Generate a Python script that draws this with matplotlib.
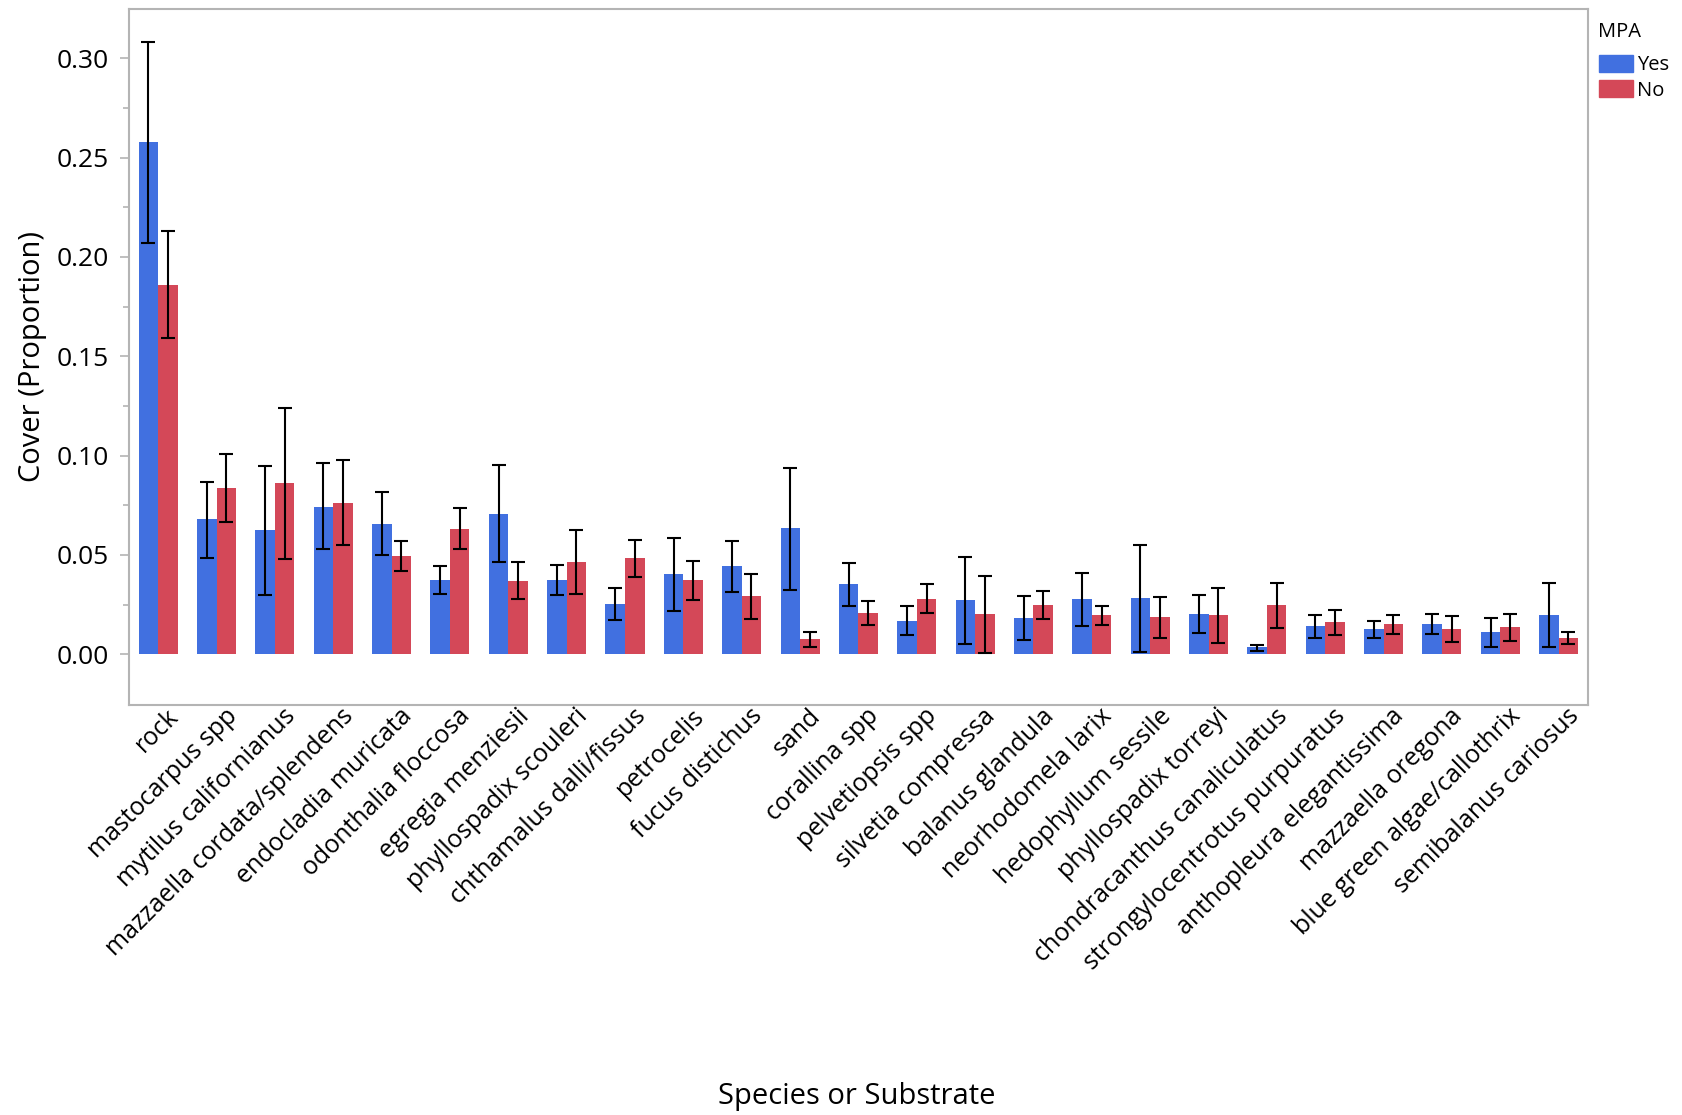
import matplotlib
matplotlib.use('Agg')
import matplotlib.pyplot as plt
import matplotlib.transforms as mtransforms
from matplotlib.patches import Patch
import numpy as np

plt.rcParams['font.family'] = ['Open Sans', 'DejaVu Sans']

species = ['rock', 'mastocarpus spp', 'mytilus californianus', 'mazzaella cordata/splendens',
           'endocladia muricata', 'odonthalia floccosa', 'egregia menziesii',
           'phyllospadix scouleri', 'chthamalus dalli/fissus', 'petrocelis',
           'fucus distichus', 'sand', 'corallina spp', 'pelvetiopsis spp',
           'silvetia compressa', 'balanus glandula', 'neorhodomela larix',
           'hedophyllum sessile', 'phyllospadix torreyi', 'chondracanthus canaliculatus',
           'strongylocentrotus purpuratus', 'anthopleura elegantissima',
           'mazzaella oregona', 'blue green algae/callothrix', 'semibalanus cariosus']

# MPA = Yes
yes_mean = [0.258, 0.068, 0.0627, 0.0743, 0.0657, 0.0373, 0.0706, 0.0372, 0.0252, 0.0402,
            0.0443, 0.0634, 0.0352, 0.0166, 0.0272, 0.0181, 0.0277, 0.0282, 0.0201, 0.0035,
            0.0141, 0.0126, 0.0151, 0.0111, 0.0196]
yes_low = [0.207, 0.0486, 0.0299, 0.0528, 0.050, 0.0306, 0.0463, 0.030, 0.0174, 0.0218,
           0.0314, 0.0325, 0.0241, 0.0096, 0.005, 0.007, 0.0141, 0.0012, 0.0109, 0.0017,
           0.0082, 0.0084, 0.0101, 0.0037, 0.0037]
yes_high = [0.308, 0.0868, 0.0949, 0.0963, 0.0817, 0.0444, 0.0954, 0.0448, 0.0332, 0.0584,
            0.057, 0.0939, 0.0459, 0.0241, 0.049, 0.0292, 0.0411, 0.055, 0.0297, 0.0049,
            0.0198, 0.0166, 0.0201, 0.0184, 0.0357]

# MPA = No
no_mean = [0.186, 0.0836, 0.0863, 0.0764, 0.0493, 0.063, 0.0368, 0.0463, 0.0483, 0.0372,
           0.0292, 0.0075, 0.0206, 0.0277, 0.0201, 0.0246, 0.0196, 0.0186, 0.0196, 0.0246,
           0.0161, 0.0151, 0.0126, 0.0136, 0.008]
no_low = [0.159, 0.0664, 0.048, 0.0551, 0.0421, 0.0528, 0.028, 0.0305, 0.0389, 0.0273,
          0.0176, 0.0039, 0.0148, 0.0206, 0.0008, 0.0178, 0.0148, 0.0084, 0.0055, 0.0134,
          0.0099, 0.0104, 0.0064, 0.0067, 0.005]
no_high = [0.213, 0.101, 0.124, 0.0979, 0.057, 0.0738, 0.0463, 0.0624, 0.0573, 0.0468,
           0.0404, 0.0112, 0.0268, 0.0352, 0.0392, 0.0319, 0.0241, 0.0288, 0.0335, 0.0357,
           0.0221, 0.0198, 0.0191, 0.0201, 0.0111]

blue = '#4170E0'
red = '#D44858'
grey = '#b4b4b4'

fig = plt.figure(figsize=(16.82, 11.15), dpi=100)
ax = fig.add_axes([0.0767, 0.3677, 0.8673, 0.6246])

x = np.arange(len(species))
w = 0.335

yes_err = [np.array(yes_mean) - np.array(yes_low), np.array(yes_high) - np.array(yes_mean)]
no_err = [np.array(no_mean) - np.array(no_low), np.array(no_high) - np.array(no_mean)]

ax.bar(x - w / 2, yes_mean, w, color=blue)
ax.bar(x + w / 2, no_mean, w, color=red)
ax.errorbar(x - w / 2, yes_mean, yerr=yes_err, fmt='none', ecolor='black',
            elinewidth=1.5, capsize=5, capthick=1.5)
ax.errorbar(x + w / 2, no_mean, yerr=no_err, fmt='none', ecolor='black',
            elinewidth=1.5, capsize=5, capthick=1.5)

ax.set_xlim(-0.5, len(species) - 0.5)
ax.set_ylim(-0.0255, 0.325)
ax.set_yticks(np.arange(0, 0.31, 0.05))
ax.set_yticks(np.arange(0.025, 0.31, 0.05), minor=True)
ax.set_yticklabels([f'{v:.2f}' for v in np.arange(0, 0.31, 0.05)], fontsize=19)
ax.tick_params(axis='y', which='major', length=6.5, width=1.2, color=grey, pad=8)
ax.tick_params(axis='y', which='minor', length=4, width=1.2, color=grey)

ax.set_xticks(x)
ax.set_xticklabels(species, rotation=45, ha='right', va='top',
                   rotation_mode='anchor', fontsize=18)
ax.tick_params(axis='x', length=0, pad=-1)
offset = mtransforms.ScaledTranslation(0.08, 0, fig.dpi_scale_trans)
for lab in ax.get_xticklabels():
    lab.set_transform(lab.get_transform() + offset)

for s in ax.spines.values():
    s.set_color(grey)
    s.set_linewidth(1.5)

ax.set_ylabel('Cover (Proportion)', fontsize=21, labelpad=7)
fig.text(0.5095, 0.017, 'Species or Substrate', fontsize=21, ha='center', va='center')

fig.text(0.950, 0.971, 'MPA', fontsize=14.5, ha='left', va='center')
handles = [Patch(color=blue, label='Yes'), Patch(color=red, label='No')]
leg = fig.legend(handles=handles, loc='upper left',
                 bbox_to_anchor=(0.946, 0.958), frameon=False, fontsize=14.5,
                 handlelength=1.7, handleheight=0.95,
                 handletextpad=0.2, labelspacing=0.22, borderaxespad=0.0)

fig.savefig('out.png', dpi=100)
